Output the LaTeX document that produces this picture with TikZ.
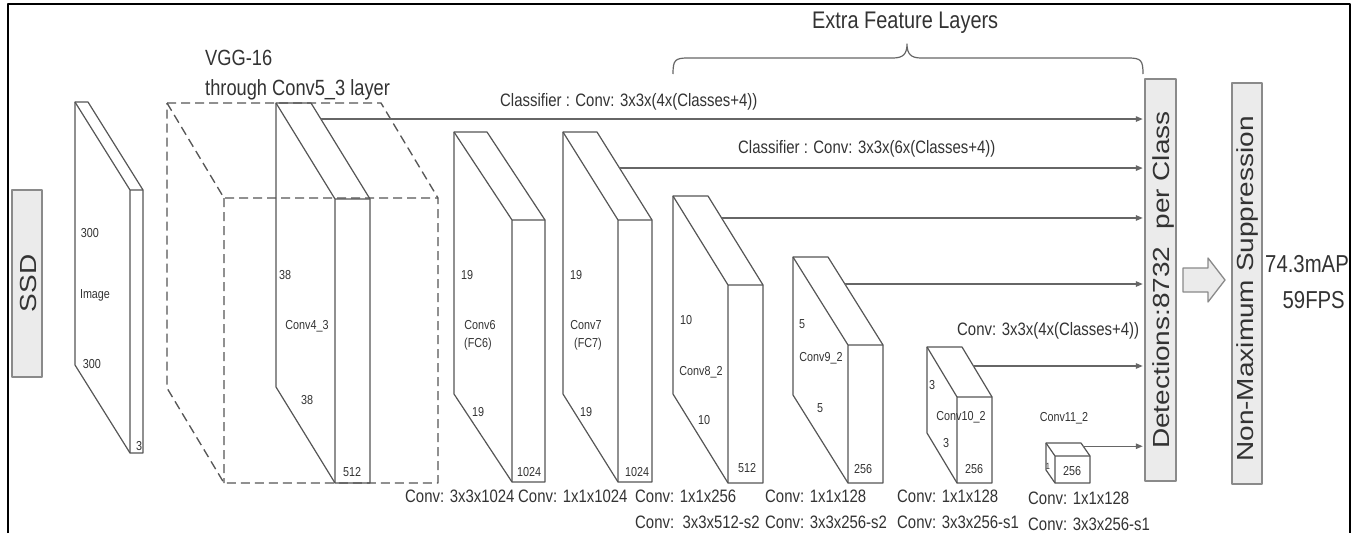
\documentclass[tikz,border=0pt]{standalone}
\usepackage{fontspec}
\setmainfont{Liberation Sans}
\usepackage{graphicx}
\usetikzlibrary{calc,arrows.meta}
\definecolor{txt}{HTML}{333333}
\definecolor{ln}{HTML}{555555}
\definecolor{arrc}{HTML}{666666}
\definecolor{boxf}{HTML}{EBEBEB}
\definecolor{boxd}{HTML}{8A8A8A}
\newcommand{\sqz}[1]{\scalebox{0.83}[1]{#1}}
\newcommand{\sqv}[1]{\scalebox{1}[0.83]{#1}}
\newcommand{\mkprism}[8]{%
  \coordinate (#1-a) at (#2,#3);
  \coordinate (#1-b) at ($(#1-a)+(#6,0)$);
  \coordinate (#1-c) at ($(#1-a)+(#4,#5)$);
  \coordinate (#1-d) at ($(#1-c)+(#6,0)$);
  \coordinate (#1-f) at ($(#2,#7)+(#4,0)$);
  \coordinate (#1-e) at ($(#1-f)+(#6,0)$);
  \coordinate (#1-g) at ($(#1-f)-(#4,#5)$);
  \draw[#8] (#1-a) -- (#1-b) -- (#1-d) -- (#1-e) -- (#1-f) -- (#1-g) -- cycle;
  \draw[#8] (#1-a) -- (#1-c) -- (#1-d) (#1-c) -- (#1-f);
}
\tikzset{
  prismline/.style={draw=ln, line width=1.2pt},
  vggline/.style={draw=ln, line width=1.3pt, dash pattern=on 9pt off 5pt},
  sm/.style={text=txt, font=\fontsize{13}{13}\selectfont, inner sep=0pt},
  lbl/.style={text=txt, font=\fontsize{18}{18}\selectfont, inner sep=0pt, anchor=base west},
  ttl/.style={text=txt, font=\fontsize{22}{22}\selectfont, inner sep=0pt, anchor=base west},
  res/.style={text=txt, font=\fontsize{24.5}{24.5}\selectfont, inner sep=0pt},
  gbox/.style={draw=boxd, fill=boxf, line width=1.5pt, inner sep=0pt},
  vtxt/.style={text=txt, font=\fontsize{28}{28}\selectfont, rotate=90, inner sep=0pt},
  conn/.style={draw=arrc, line width=1.3pt, shorten >=1.5pt, -{Triangle[length=7pt,width=5.5pt]}},
  brc/.style={draw=arrc, line width=1.2pt},
}
\begin{document}
\begin{tikzpicture}[x=1pt, y=-1pt, line join=round]
\useasboundingbox (0,0) rectangle (1363,533);
\fill[white] (0,0) rectangle (1363,533);
% frame
\draw[line width=2pt, black] (8,533) -- (8,4) -- (1350,4) -- (1350,533);

% SSD box
\node[gbox, minimum width=30pt, minimum height=187pt] (ssd) at (27,283.5) {};
\node[vtxt] (ssdt) at (28,283.5) {\sqv{SSD}};

% prisms
\mkprism{img}{75}{102}{55}{88}{13}{453}{prismline}
\mkprism{vgg}{167}{103}{57}{95}{214}{483}{vggline}
\mkprism{c43}{276}{103}{59}{96}{35}{483}{prismline}
\mkprism{c6}{454}{132}{58}{88}{33}{482}{prismline}
\mkprism{c7}{563}{132}{55}{88}{34}{482}{prismline}
\mkprism{c8}{673}{196}{55}{89}{35}{483}{prismline}
\mkprism{c9}{793}{257}{55}{88}{35}{483}{prismline}
\mkprism{c10}{927}{347}{30}{50}{35}{483}{prismline}
\mkprism{c11}{1046}{443}{9}{13}{35}{483}{prismline}

% small labels
\node[sm] (i1) at (90,233) {\sqz{300}};
\node[sm] (i2) at (95,295) {\sqz{Image}};
\node[sm] (i3) at (92,364) {\sqz{300}};
\node[sm] (i4) at (139,446) {\sqz{3}};
\node[sm] (a1) at (285,275) {\sqz{38}};
\node[sm] (a2) at (307,326) {\sqz{Conv4\_3}};
\node[sm] (a3) at (307,400) {\sqz{38}};
\node[sm] (a4) at (352,472) {\sqz{512}};
\node[sm] (b6a) at (467,275) {\sqz{19}};
\node[sm] (b6b) at (480,325) {\sqz{Conv6}};
\node[sm] (b6c) at (478,344) {\sqz{(FC6)}};
\node[sm] (b6d) at (478,412) {\sqz{19}};
\node[sm] (b6e) at (529,472) {\sqz{1024}};
\node[sm] (b7a) at (576,275) {\sqz{19}};
\node[sm] (b7b) at (586,325) {\sqz{Conv7}};
\node[sm] (b7c) at (588,344) {\sqz{(FC7)}};
\node[sm] (b7d) at (586,412) {\sqz{19}};
\node[sm] (b7e) at (637,472) {\sqz{1024}};
\node[sm] (b8a) at (686,320) {\sqz{10}};
\node[sm] (b8b) at (701,372) {\sqz{Conv8\_2}};
\node[sm] (b8c) at (704,420) {\sqz{10}};
\node[sm] (b8d) at (747,468) {\sqz{512}};
\node[sm] (b9a) at (802,324) {\sqz{5}};
\node[sm] (b9b) at (821,358) {\sqz{Conv9\_2}};
\node[sm] (b9c) at (820,408) {\sqz{5}};
\node[sm] (b9d) at (863,469) {\sqz{256}};
\node[sm] (b10a) at (932,385) {\sqz{3}};
\node[sm] (b10b) at (961,417) {\sqz{Conv10\_2}};
\node[sm] (b10c) at (946,443) {\sqz{3}};
\node[sm] (b10d) at (974,469) {\sqz{256}};
\node[sm] (b11a) at (1064,418) {\sqz{Conv11\_2}};
\node[sm] (b11b) at (1072,471) {\sqz{256}};
\node[sm, font=\fontsize{9}{9}\selectfont] (b11c) at (1048,466) {\sqz{1}};

% titles
\node[ttl] (vgg1) at (205,65) {\sqz{VGG-16}};
\node[ttl] (vgg2) at (205,95) {\sqz{through Conv5\_3 layer}};
\node[ttl, font=\fontsize{24}{24}\selectfont] (efl) at (812,28) {\sqz{Extra Feature Layers}};
\draw[brc] (673,74) .. controls (673,60) and (675,58) .. (688,58) -- (893,58)
  .. controls (903,58) and (907,54) .. (907,44)
  .. controls (907,54) and (911,58) .. (921,58) -- (1128,58)
  .. controls (1141,58) and (1143,60) .. (1143,74);

% classifier labels
\node[lbl] (cl1) at (500,106.5) {\sqz{Classifier : Conv: 3x3x(4x(Classes+4))}};
\node[lbl] (cl2) at (738,153) {\sqz{Classifier : Conv: 3x3x(6x(Classes+4))}};
\node[lbl] (cl3) at (957,335) {\sqz{Conv: 3x3x(4x(Classes+4))}};

% bottom labels
\node[lbl] (l1) at (405,502.5) {\sqz{Conv: 3x3x1024}};
\node[lbl] (l2) at (518,502.5) {\sqz{Conv: 1x1x1024}};
\node[lbl] (l3) at (635,502.5) {\sqz{Conv: 1x1x256}};
\node[lbl] (l4) at (635,528.5) {\sqz{Conv:\ \ 3x3x512-s2}};
\node[lbl] (l5) at (765,502.5) {\sqz{Conv: 1x1x128}};
\node[lbl] (l6) at (765,528.5) {\sqz{Conv: 3x3x256-s2}};
\node[lbl] (l7) at (897,502.5) {\sqz{Conv: 1x1x128}};
\node[lbl] (l8) at (897,528.5) {\sqz{Conv: 3x3x256-s1}};
\node[lbl] (l9) at (1028,504.5) {\sqz{Conv: 1x1x128}};
\node[lbl] (l10) at (1028,530.5) {\sqz{Conv: 3x3x256-s1}};

% detections and NMS
\node[gbox, minimum width=31pt, minimum height=402pt] (det) at (1160.5,280) {};
\node[vtxt] (dett) at (1163.5,280) {\sqv{Detections:8732\hspace{17pt}per Class}};
\node[gbox, minimum width=30pt, minimum height=401pt] (nms) at (1247,283.5) {};
\node[vtxt] (nmst) at (1247.5,289) {\sqv{Non-Maximum Suppression}};
\draw[draw=boxd, fill=boxf, line width=1.3pt] (1183,268) -- (1208,268) -- (1208,258) -- (1225,280) -- (1208,302) -- (1208,292) -- (1183,292) -- cycle;
\node[res, anchor=base west] (map) at (1265,272) {\sqz{74.3mAP}};
\node[res, anchor=base east] (fps) at (1345,308) {\sqz{59FPS}};

% connectors
\coordinate (s1) at ($(c43-b)!0.167!(c43-d)$);
\coordinate (s2) at ($(c7-b)!0.41!(c7-d)$);
\coordinate (s3) at ($(c8-b)!0.247!(c8-d)$);
\coordinate (s4) at ($(c9-b)!0.307!(c9-d)$);
\coordinate (s5) at ($(c10-b)!0.38!(c10-d)$);
\coordinate (s6) at ($(c11-b)!0.25!(c11-d)$);
\foreach \s in {s1,s2,s3,s4,s5,s6}
  \draw[conn] (\s) -- (\s -| det.west);
\end{tikzpicture}
\end{document}
